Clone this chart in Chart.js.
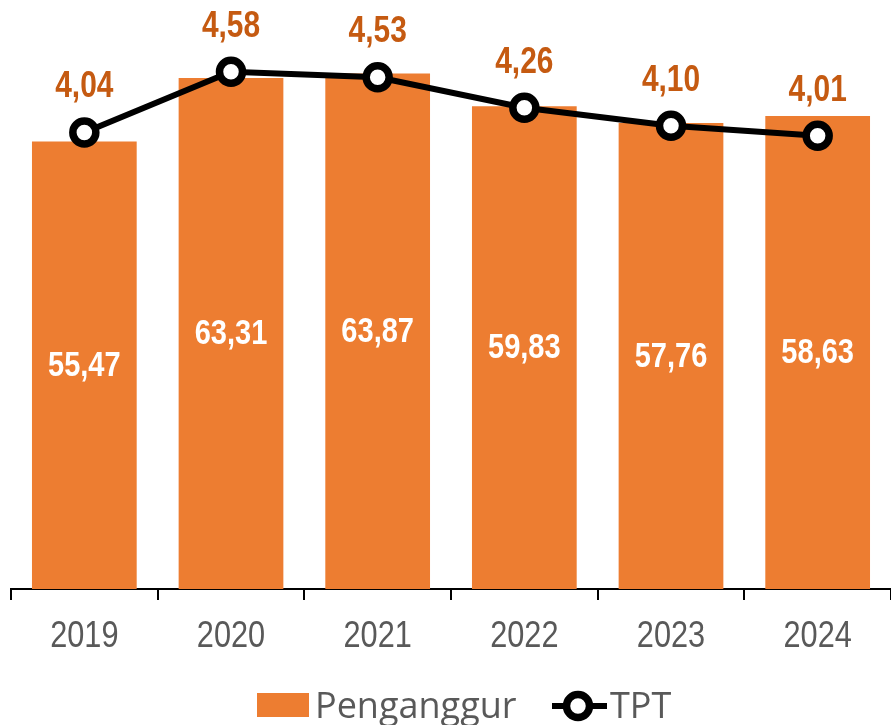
<!DOCTYPE html>
<html>
<head>
<meta charset="utf-8">
<script src="https://cdn.jsdelivr.net/npm/chart.js@4.4.1/dist/chart.umd.min.js"></script>
<style>
html,body{margin:0;padding:0;background:#fff;overflow:hidden;}
#wrap{width:891px;height:725px;}
</style>
</head>
<body>
<div id="wrap"><canvas id="c" width="891" height="725"></canvas></div>
<script>
const categories = ['2019','2020','2021','2022','2023','2024'];
const penganggur = [55.47, 63.31, 63.87, 59.83, 57.76, 58.63];
const tpt = [4.04, 4.58, 4.53, 4.26, 4.10, 4.01];
const seriesNames = ['Penganggur', 'TPT'];

const BAR_COLOR = '#ED7D31';
const LABEL_ORANGE = '#C55A11';
const TEXT_GREY = '#595959';
const SANS = '"Liberation Sans", Arial, sans-serif';
const LEGEND_FONT = '"Open Sans", "Noto Sans", sans-serif';
const NARROW_X = 0.83;

const fmt = v => v.toFixed(2).replace('.', ',');

function narrowText(ctx, text, x, y) {
  ctx.save();
  ctx.translate(x, y);
  ctx.scale(NARROW_X, 1);
  ctx.fillText(text, 0, 0);
  ctx.restore();
}

const labelPlugin = {
  id: 'valueLabels',
  afterDatasetsDraw(chart) {
    const ctx = chart.ctx;
    ctx.save();
    ctx.textAlign = 'center';
    ctx.textBaseline = 'middle';
    ctx.font = 'bold 35px ' + SANS;
    const barMeta = chart.getDatasetMeta(0);
    barMeta.data.forEach((bar, i) => {
      ctx.fillStyle = '#FFFFFF';
      narrowText(ctx, fmt(penganggur[i]), bar.x, (bar.y + bar.base) / 2 + 1);
    });
    ctx.font = 'bold 36px ' + SANS;
    const lineMeta = chart.getDatasetMeta(1);
    lineMeta.data.forEach((pt, i) => {
      ctx.fillStyle = LABEL_ORANGE;
      narrowText(ctx, fmt(tpt[i]), pt.x, pt.y - 45);
    });
    ctx.restore();
  },
  afterDraw(chart) {
    const ctx = chart.ctx;
    ctx.save();
    // category labels, positioned by the x scale
    const xs = chart.scales.x;
    ctx.fillStyle = TEXT_GREY;
    ctx.font = '37px ' + SANS;
    ctx.textAlign = 'center';
    ctx.textBaseline = 'alphabetic';
    chart.data.labels.forEach((lab, i) => {
      narrowText(ctx, lab, xs.getPixelForTick(i), 647);
    });
    // legend: bar
    ctx.fillStyle = BAR_COLOR;
    ctx.fillRect(257, 693, 52, 24);
    ctx.fillStyle = TEXT_GREY;
    ctx.font = '36px ' + LEGEND_FONT;
    ctx.textAlign = 'left';
    ctx.textBaseline = 'alphabetic';
    ctx.fillText(seriesNames[0], 315, 718);
    // legend: line
    ctx.strokeStyle = '#000';
    ctx.lineWidth = 6;
    ctx.beginPath();
    ctx.moveTo(552, 706);
    ctx.lineTo(607, 706);
    ctx.stroke();
    ctx.beginPath();
    ctx.arc(578, 706, 11.5, 0, Math.PI * 2);
    ctx.fillStyle = '#fff';
    ctx.fill();
    ctx.lineWidth = 7.5;
    ctx.stroke();
    ctx.fillStyle = TEXT_GREY;
    ctx.fillText(seriesNames[1], 610, 718);
    ctx.restore();
  }
};

new Chart(document.getElementById('c'), {
  data: {
    labels: categories,
    datasets: [
      {
        type: 'bar',
        label: seriesNames[0],
        data: penganggur,
        backgroundColor: BAR_COLOR,
        borderWidth: 0,
        barPercentage: 0.714,
        categoryPercentage: 1.0,
        yAxisID: 'y',
        order: 2
      },
      {
        type: 'line',
        label: seriesNames[1],
        data: tpt,
        borderColor: '#000',
        borderWidth: 6,
        pointRadius: 11.5,
        pointBorderWidth: 7.5,
        pointBackgroundColor: '#fff',
        pointBorderColor: '#000',
        tension: 0,
        yAxisID: 'y2',
        order: 1
      }
    ]
  },
  options: {
    responsive: false,
    animation: false,
    devicePixelRatio: 1,
    layout: { autoPadding: false, padding: { left: 11, right: 0, top: 5, bottom: 125 } },
    plugins: { legend: { display: false }, tooltip: { enabled: false } },
    scales: {
      x: {
        offset: true,
        grid: {
          display: true,
          drawOnChartArea: false,
          drawTicks: true,
          tickLength: 11,
          color: '#000',
          lineWidth: 2,
          offset: true
        },
        border: { display: true, color: '#000', width: 2 },
        ticks: { display: false }
      },
      y: {
        display: false,
        min: 0,
        max: 72.37
      },
      y2: {
        display: false,
        min: -0.018,
        max: 5.173
      }
    }
  },
  plugins: [labelPlugin]
});
</script>
</body>
</html>
